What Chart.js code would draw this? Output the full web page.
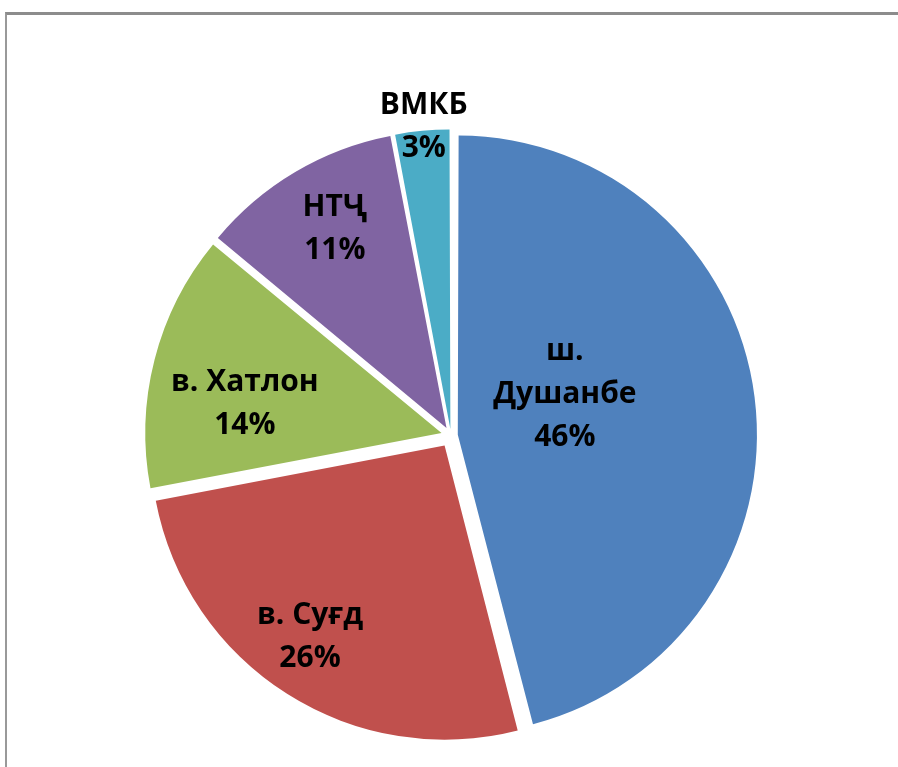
<!DOCTYPE html>
<html>
<head>
<meta charset="utf-8">
<script src="https://cdn.jsdelivr.net/npm/chart.js@4"></script>
<style>
  html, body { margin: 0; padding: 0; background: #fff; }
  #wrap { position: relative; width: 898px; height: 767px; overflow: hidden; }
  #frame { position: absolute; left: 5px; top: 12px; width: 1000px; height: 1000px;
           border-top: 3px solid #8c8c8c; border-left: 2px solid #999; }
  #chart { position: absolute; left: 0; top: 0; }
</style>
</head>
<body>
<div id="wrap">
  <div id="frame"></div>
  <canvas id="chart" width="898" height="767"></canvas>
</div>
<script>
// Regions and their shares (percent)
const regions = ['ш. Душанбе', 'в. Суғд', 'в. Хатлон', 'НТҶ', 'ВМКБ'];
const labelLines = [['ш.', 'Душанбе'], ['в. Суғд'], ['в. Хатлон'], ['НТҶ'], ['ВМКБ']];
const shares = [46, 26, 14, 11, 3];
const colors = ['#4f81bd', '#c0504d', '#9bbb59', '#8064a2', '#4bacc6'];

// every slice pulled out by the same distance (px)
const explode = 12;

// where each label sits: fraction of radius, angle tweak in degrees
const labelPlace = [
    { r: 0.374, a: -14.8 },
    { r: 0.79, a: 3 },
    { r: 0.67, a: -5.4 },
    { r: 0.77, a: 1.5 },
    { r: 1.02, a: 0.4 }
];

// chart.js v4 moves an arc by offset/4 * (2 - sin(circumference)),
// so work the offset back from the wanted distance
const total = shares.reduce((s, v) => s + v, 0);
const offsetFor = (value) => {
    const circ = value / total * Math.PI * 2;
    const fix = 1 - Math.sin(Math.min(Math.PI, circ));
    return 4 * explode / (1 + fix);
};

// Data labels drawn from the arc geometry
const sliceLabels = {
    id: 'sliceLabels',
    afterDatasetsDraw(chart) {
        const ctx = chart.ctx;
        const meta = chart.getDatasetMeta(0);
        ctx.save();
        ctx.font = 'bold 30px "Open Sans", sans-serif';
        ctx.fillStyle = '#000';
        ctx.textAlign = 'center';
        ctx.textBaseline = 'middle';
        meta.data.forEach((arc, i) => {
            const p = arc.getProps(['x', 'y', 'startAngle', 'endAngle', 'outerRadius']);
            const mid = (p.startAngle + p.endAngle) / 2;
            const cx = p.x + Math.cos(mid) * explode;
            const cy = p.y + Math.sin(mid) * explode;
            const a = mid + labelPlace[i].a * Math.PI / 180;
            const dist = p.outerRadius * labelPlace[i].r;
            const x = cx + Math.cos(a) * dist;
            const y = cy + Math.sin(a) * dist + 2;
            const lines = labelLines[i].concat([shares[i] + '%']);
            const lh = 43;
            lines.forEach((t, k) => {
                ctx.fillText(t, x, y + (k - (lines.length - 1) / 2) * lh);
            });
        });
        ctx.restore();
    }
};

new Chart(document.getElementById('chart'), {
    type: 'pie',
    data: {
        labels: regions,
        datasets: [{
            data: shares,
            backgroundColor: colors,
            borderWidth: 0,
            offset: (c) => offsetFor(c.raw),
            radius: 294
        }]
    },
    options: {
        responsive: false,
        animation: false,
        layout: { padding: { top: 104, left: 4 } },
        plugins: {
            legend: { display: false },
            tooltip: { enabled: false }
        }
    },
    plugins: [sliceLabels]
});
</script>
</body>
</html>
